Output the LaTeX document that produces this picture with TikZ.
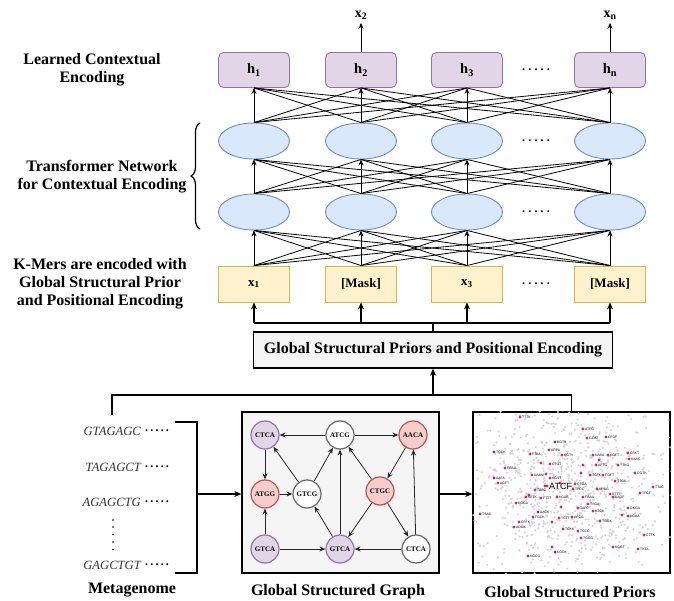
\documentclass[tikz,border=0pt]{standalone}
\usepackage{fontspec}
\setmainfont{Liberation Serif}
\newfontfamily\smallsans{Liberation Sans}
\usetikzlibrary{arrows.meta,shapes.geometric,decorations.pathreplacing}
\definecolor{hfill}{HTML}{E1D5E7}
\definecolor{hstroke}{HTML}{9673A6}
\definecolor{efill}{HTML}{DAE8FC}
\definecolor{estroke}{HTML}{6C8EBF}
\definecolor{ifill}{HTML}{FFF2CC}
\definecolor{istroke}{HTML}{D6B656}
\definecolor{gfill}{HTML}{F5F5F5}
\definecolor{rfill}{HTML}{F8CECC}
\definecolor{rstroke}{HTML}{B85450}
\definecolor{pink}{HTML}{D02A6E}
\definecolor{violet}{HTML}{8E24AA}
\begin{document}
\begin{tikzpicture}[x=1pt,y=-1pt,
  big/.style={font=\fontsize{16}{18}\selectfont\bfseries, align=center},
  hbox/.style={draw=hstroke, fill=hfill, rounded corners=5pt, minimum width=71pt, minimum height=35pt, line width=0.9pt, font=\fontsize{14.5}{16}\selectfont\bfseries},
  ell/.style={ellipse, draw=estroke, fill=efill, minimum width=71pt, minimum height=36pt, line width=0.9pt},
  inbox/.style={draw=istroke, fill=ifill, minimum width=71pt, minimum height=36pt, line width=0.9pt, font=\fontsize{13}{15}\selectfont\bfseries},
  net/.style={line width=0.8pt},
  netarr/.style={line width=0.8pt, -{Stealth[length=6pt,width=5pt]}},
  lw/.style={line width=1.4pt},
  arr/.style={line width=1.4pt, -{Stealth[length=7pt,width=6pt]}},
  seq/.style={font=\fontsize{12.6}{14}\selectfont\itshape, text=black!80, anchor=east, inner sep=0pt},
  ddots/.style={font=\fontsize{12}{14}\selectfont\bfseries, inner sep=0pt},
  gnode/.style={circle, minimum size=28pt, inner sep=0pt, line width=1.2pt, font=\fontsize{7}{8}\selectfont\bfseries},
  pnode/.style={gnode, draw=hstroke, fill=hfill},
  rnode/.style={gnode, draw=rstroke, fill=rfill},
  wnode/.style={gnode, draw=black!60, fill=white},
  garr/.style={line width=0.8pt, draw=black!85, -{Stealth[length=6pt,width=5pt]}},
  lab/.style={font=\fontsize{16}{18}\selectfont\bfseries},
  tiny/.style={font=\smallsans\fontsize{3.4}{3.4}\selectfont, anchor=west, inner sep=0pt}
]
\useasboundingbox (0,0) rectangle (674,601);

% left labels
\node[big] (l1) at (92,70) {Learned Contextual\\Encoding};
\node[big] (l2) at (102,177) {Transformer Network\\for Contextual Encoding};
\node[big] (l3) at (100,284) {K-Mers are encoded with\\Global Structural Prior\\and Positional Encoding};
\draw[line width=1.2pt, decorate, decoration={brace, amplitude=9pt}] (200,229) -- (200,123);

% top boxes
\node[hbox] (h1) at (254,70) {h\textsubscript{1}};
\node[hbox] (h2) at (361,70) {h\textsubscript{2}};
\node[hbox] (h3) at (467,70) {h\textsubscript{3}};
\node[hbox] (h4) at (610,70) {h\textsubscript{n}};
\node[ell] (a1) at (254,141) {};
\node[ell] (a2) at (361,141) {};
\node[ell] (a3) at (467,141) {};
\node[ell] (a4) at (610,141) {};
\node[ell] (b1) at (254,212) {};
\node[ell] (b2) at (361,212) {};
\node[ell] (b3) at (467,212) {};
\node[ell] (b4) at (610,212) {};
\node[inbox] (i1) at (254,284) {x\textsubscript{1}};
\node[inbox] (i2) at (361,284) {[Mask]};
\node[inbox] (i3) at (467,284) {x\textsubscript{3}};
\node[inbox] (i4) at (610,284) {[Mask]};
\foreach \yy/\nm in {70/d1,141/d2,212/d3,284/d4}{
  \node[ddots] (\nm) at (536,\yy) {.\hspace{3.2pt}.\hspace{3.2pt}.\hspace{3.2pt}.\hspace{3.2pt}.};
}

% full connections
\foreach \i in {1,...,4}{
  \foreach \j in {1,...,4}{
    \ifnum\i=\j
      \draw[netarr] (i\i.north) -- (b\j.south);
      \draw[netarr] (b\i.north) -- (a\j.south);
      \draw[netarr] (a\i.north) -- (h\j.south);
    \else
      \draw[net] (i\i.north) -- (b\j.south);
      \draw[net] (b\i.north) -- (a\j.south);
      \draw[net] (a\i.north) -- (h\j.south);
    \fi
  }
}

% outputs
\node[font=\fontsize{14}{15}\selectfont\bfseries] (o2) at (361,15) {x\textsubscript{2}};
\node[font=\fontsize{14}{15}\selectfont\bfseries] (o4) at (610,15) {x\textsubscript{n}};
\draw[netarr] (h2.north) -- (o2.south);
\draw[netarr] (h4.north) -- (o4.south);

% global box
\node[draw, fill=gfill, line width=1.4pt, minimum width=359pt, minimum height=36pt, font=\fontsize{16}{18}\selectfont\bfseries] (glob) at (433,350) {Global Structural Priors and Positional Encoding};
\coordinate (bus) at (433,323);
\draw[lw] (glob.north) -- (bus);
\draw[lw] (i1.south |- bus) -- (i4.south |- bus);
\foreach \k in {1,...,4}{ \draw[arr] (i\k.south |- bus) -- (i\k.south); }

% metagenome
\node[seq] (s1) at (141,431) {GTAGAGC};
\node[seq] (s2) at (141,467) {TAGAGCT};
\node[seq] (s3) at (141,502) {AGAGCTG};
\node[seq] (s4) at (141,565) {GAGCTGT};
\foreach \s in {1,...,4}{ \node[ddots, anchor=west] at ([xshift=4pt]s\s.east) {.\hspace{2.2pt}.\hspace{2.2pt}.\hspace{2.2pt}.\hspace{2.2pt}.}; }
\foreach \yy in {520,527,534.5,542,549.5}{ \fill (113,\yy) circle (0.9pt); }
\draw[lw] (175,422) -- (197,422) -- (197,573) -- (175,573);
\coordinate (mgtop) at (112,415);
\coordinate (split) at (433,395);
\node[lab] (m) at (132,590) {Metagenome};

% graph box
\node[draw, fill=gfill, line width=1.4pt, minimum width=197pt, minimum height=161pt] (gb) at (340.5,492.5) {};
\coordinate (brk) at (197,494);
\draw[arr] (brk) -- (gb.west |- brk);
\node[pnode] (n1) at (265,435) {CTCA};
\node[wnode] (n2) at (340,435) {ATCG};
\node[rnode] (n3) at (413,435) {AACA};
\node[rnode] (n4) at (265,494) {ATGG};
\node[wnode] (n5) at (307,494) {GTCG};
\node[rnode] (n6) at (380,491) {CTGC};
\node[pnode] (n7) at (265,549) {GTCA};
\node[pnode] (n8) at (340,549) {GTCA};
\node[wnode] (n9) at (416,549) {CTCA};
\draw[garr] (n2) -- (n1);
\draw[garr] (n2) -- (n3);
\draw[garr] (n1) -- (n4);
\draw[garr] (n4) -- (n5);
\draw[garr] (n5) -- (n1);
\draw[garr] (n5) -- (n2);
\draw[garr] (n8) -- (n2);
\draw[garr] (n6) -- (n2);
\draw[garr] (n3) -- (n6);
\draw[garr] (n6) -- (n8);
\draw[garr] (n6) -- (n9);
\draw[garr] (n9) -- (n3);
\draw[garr] (n9) -- (n8);
\draw[garr] (n7) -- (n8);
\draw[garr] (n7) -- (n4);
\draw[garr] (n8) -- (n5);
\node[lab] (gl) at (338,592) {Global Structured Graph};

% priors box
\node[draw, fill=white, line width=1.4pt, minimum width=197pt, minimum height=161pt] (pri) at (571.5,492.5) {};
\draw[arr] (gb.east |- brk) -- (pri.west |- brk);
\node[lab] (pl) at (570,592) {Global Structured Priors};
\draw[arr] (split) -- (glob.south);
\draw[lw] (mgtop) |- (split);
\draw[lw] (split) -| (pri.north);

\begin{scope}
  \clip (pri.south west) rectangle (pri.north east);
  \pgfmathsetseed{12345}
  \foreach \t in {1,...,850}{
    \pgfmathsetmacro\px{568+50*(rand+rand+rand)}
    \pgfmathsetmacro\py{490+44*(rand+rand+rand)}
    \fill[black!17] (\px,\py) circle (1.2pt);
  }
\end{scope}
\foreach \x/\y/\l in {520/417/TTTK,530/454/FTAA,549/450/KRPA,562/455/KGTV,505/468/FRAA,541/463/,550/464/CTGT,498/483/AGFT,532/475/AAAM,546/474/,550/478/KGST,545/486/,535/490/TABC,560/483/,
  583/429/ATFG,587/438/GCAT,606/437/CFGF,628/453/CFKT,629/459/KAAC,593/455/KABA,608/455/KGFT,599/460/,583/465/,596/465/AFTG,618/465/TTKG,635/473/CGTK,581/473/,590/475/TCFK,603/475/FGFT,615/481/TTGK,653/487/TTAC,575/484/CTGA,597/489/KRAG,573/489/TFCC,
  526/497/KFTK,529/495/,541/498/FTTT,557/497/KGAB,516/503/KGGA,561/507/,480/514/TSAG,533/517/FGCK,519/522/CFFK,552/522/,514/527/ADGK,559/518/TCTT,563/529/TCKK,552/547/,528/556/KGCG,
  610/494/KTTT,640/493/TFCF,613/497/KAGF,583/497/FBAA,588/504/TSGA,578/508/TAFC,593/511/KTCK,628/508/GKGA,622/515/,628/516/KGAA,600/521/TGGK,572/517/AFCG,578/531/TCCC,581/538/TGGG,644/535/CTTK,613/547/KGGT,638/549/TKTA}{
  \fill[pink] (\x,\y) circle (1.6pt);
  \node[tiny] at (\x+2,\y) {\l};
}
\foreach \x/\y/\l in {494/452/TGCK,555/442/KGTB,494/478/AAFA,538/512/AACK,555/552/KGCK}{
  \fill[violet] (\x,\y) circle (1.6pt);
  \node[tiny] at (\x+2,\y) {\l};
}
\fill[pink] (547,486) circle (1.6pt);
\node[font=\smallsans\fontsize{9}{9}\selectfont, anchor=west, inner sep=0pt] (atcf) at (549,486) {ATCF};
\end{tikzpicture}
\end{document}
